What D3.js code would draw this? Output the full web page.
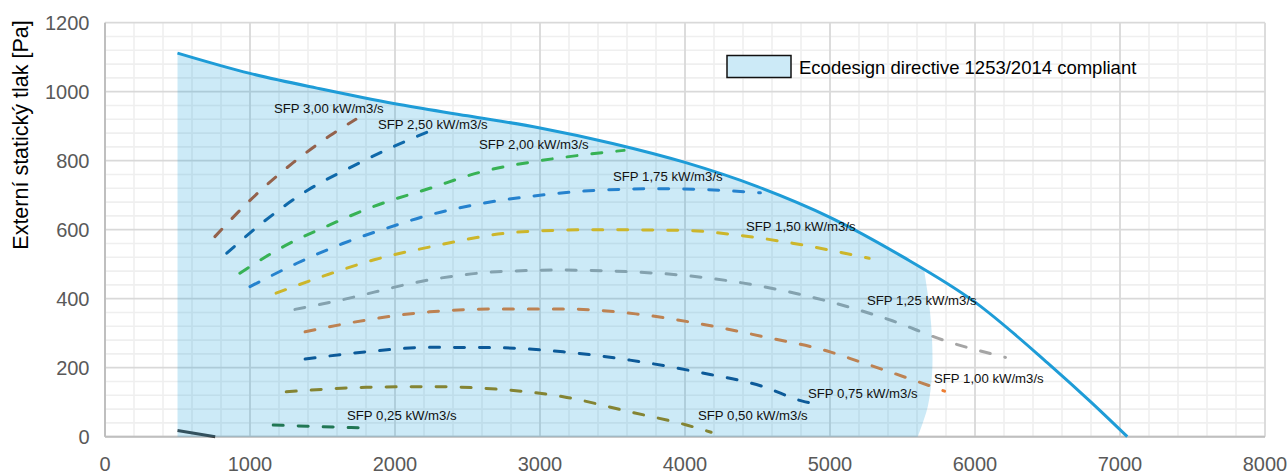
<!DOCTYPE html>
<html>
<head>
<meta charset="utf-8">
<script src="https://cdn.jsdelivr.net/npm/d3@7"></script>
<style>
  body { margin: 0; background: #fff; }
  svg { display: block; }
  text { font-family: "Liberation Sans", Arial, sans-serif; }
</style>
</head>
<body>
<svg id="chart" width="1287" height="474"></svg>
<script>
// Axis ticks
const xTicks = [0, 1000, 2000, 3000, 4000, 5000, 6000, 7000, 8000];
const yTicks = [0, 200, 400, 600, 800, 1000, 1200];

// Fan curve: airflow [m3/h] vs external static pressure [Pa]
const fanCurve = [[500, 1112], [1000, 1053], [1500, 1007], [2000, 965], [2500, 930], [3000, 895],
  [3500, 850], [4000, 795], [4500, 725], [5000, 636], [5500, 522], [6000, 390], [6500, 214],
  [6800, 100], [7050, 0]];

// Right-hand boundary of the Ecodesign compliant zone
const compliantEdge = [[5650, 482], [5686, 377], [5704, 280], [5704, 184], [5674, 87], [5605, 0]];

// Minimum operating line at low airflow
const minLine = [[500, 18], [760, 0]];

// SFP iso-lines
const sfp300 = [[758, 580], [1000, 685], [1300, 795], [1550, 872], [1730, 920]];
const sfp250 = [[840, 532], [1100, 625], [1400, 715], [1700, 782], [2000, 843], [2240, 886]];
const sfp200 = [[930, 474], [1230, 551], [1550, 614], [1850, 667], [2240, 720], [2600, 768],
  [3000, 800], [3280, 816], [3580, 830]];
const sfp175 = [[1000, 435], [1320, 502], [1640, 560], [1940, 604], [2240, 643], [2600, 676],
  [3000, 700], [3430, 715], [3850, 719], [4200, 715], [4520, 707]];
const sfp150 = [[1180, 416], [1530, 469], [1850, 512], [2240, 550], [2880, 594], [3400, 600],
  [3990, 598], [4350, 585], [4740, 561], [5270, 517]];
const sfp125 = [[1310, 369], [1570, 391], [2300, 459], [2700, 478], [3160, 483], [3620, 478],
  [4010, 467], [4540, 435], [5000, 391], [5430, 336], [5780, 280], [6210, 230]];
const sfp100 = [[1380, 304], [1800, 338], [2240, 362], [2700, 370], [3160, 370], [3660, 356],
  [4080, 329], [4540, 290], [5000, 246], [5200, 218], [5630, 156], [5790, 132]];
const sfp075 = [[1380, 225], [1800, 246], [2240, 259], [2700, 258], [3160, 246], [3620, 222],
  [4080, 188], [4540, 145], [4810, 103], [4900, 95]];
const sfp050 = [[1250, 130], [1800, 143], [2240, 145], [2700, 138], [3160, 116], [3620, 72],
  [4010, 34], [4180, 13]];
const sfp025 = [[1160, 34], [1500, 29], [1760, 26]];

const sfpLabels = ["SFP 3,00 kW/m3/s", "SFP 2,50 kW/m3/s", "SFP 2,00 kW/m3/s", "SFP 1,75 kW/m3/s",
  "SFP 1,50 kW/m3/s", "SFP 1,25 kW/m3/s", "SFP 1,00 kW/m3/s", "SFP 0,75 kW/m3/s",
  "SFP 0,50 kW/m3/s", "SFP 0,25 kW/m3/s"];
const sfpSeries = [sfp300, sfp250, sfp200, sfp175, sfp150, sfp125, sfp100, sfp075, sfp050, sfp025];

const legendLabel = "Ecodesign directive 1253/2014 compliant";
const yTitle = "Externí statický tlak [Pa]";

// ---- styling / layout ----
const sfpColors = ["#b9552a", "#135e9f", "#45b935", "#2f7dcc", "#ffbe00", "#a5a5a5",
  "#ed7d31", "#0f4c8a", "#a5800a", "#2a7034"];
// label anchor (left x, baseline y) in pixels
const labelPos = [[274, 113], [378, 129], [479, 149], [613, 181], [746, 231], [867, 305],
  [934, 383], [808, 398], [698, 420], [347, 420]];

const svg = d3.select("#chart");
const x = d3.scaleLinear().domain([0, 8000]).range([105, 1265]);
const y = d3.scaleLinear().domain([0, 1200]).range([436.7, 22.7]);

// grid: minor then major
const gGrid = svg.append("g");
const xMinor = d3.range(0, 8001, 200).filter(v => v % 1000 !== 0);
const yMinor = d3.range(0, 1201, 40).filter(v => v % 200 !== 0);
gGrid.selectAll(".xm").data(xMinor).join("line")
  .attr("x1", d => x(d)).attr("x2", d => x(d)).attr("y1", y(0)).attr("y2", y(1200))
  .attr("stroke", "#efefef").attr("stroke-width", 1.6);
gGrid.selectAll(".ym").data(yMinor).join("line")
  .attr("y1", d => y(d)).attr("y2", d => y(d)).attr("x1", x(0)).attr("x2", x(8000))
  .attr("stroke", "#efefef").attr("stroke-width", 1.6);
gGrid.selectAll(".xM").data(xTicks).join("line")
  .attr("x1", d => x(d)).attr("x2", d => x(d)).attr("y1", y(0)).attr("y2", y(1200))
  .attr("stroke", "#d9d9d9").attr("stroke-width", 1.8);
gGrid.selectAll(".yM").data(yTicks).join("line")
  .attr("y1", d => y(d)).attr("y2", d => y(d)).attr("x1", x(0)).attr("x2", x(8000))
  .attr("stroke", "#d9d9d9").attr("stroke-width", 1.8);

// axis lines
svg.append("line").attr("x1", x(0)).attr("x2", x(0)).attr("y1", y(0)).attr("y2", y(1200))
  .attr("stroke", "#bfbfbf").attr("stroke-width", 2);
svg.append("line").attr("x1", x(0)).attr("x2", x(8000)).attr("y1", y(0)).attr("y2", y(0))
  .attr("stroke", "#bfbfbf").attr("stroke-width", 2);

// tick labels
svg.append("g").selectAll("text").data(xTicks).join("text")
  .attr("x", d => x(d)).attr("y", 470.5).attr("text-anchor", "middle")
  .attr("font-size", 20).attr("fill", "#595959").text(d => d);
svg.append("g").selectAll("text").data(yTicks).join("text")
  .attr("x", 89.5).attr("y", d => y(d) + 7.2).attr("text-anchor", "end")
  .attr("font-size", 20).attr("fill", "#595959").text(d => d);

// axis title
svg.append("text").attr("transform", "translate(28,135) rotate(-90)")
  .attr("text-anchor", "middle").attr("font-size", 21.5).attr("fill", "#000").text(yTitle);

const line = d3.line().x(d => x(d[0])).y(d => y(d[1])).curve(d3.curveMonotoneX);

// SFP dashed lines
svg.append("g").selectAll("path").data(sfpSeries).join("path")
  .attr("d", d => line(d)).attr("fill", "none")
  .attr("stroke", (d, i) => sfpColors[i]).attr("stroke-width", 3)
  .attr("stroke-linecap", "round").attr("stroke-dasharray", "10,15");

svg.append("path").attr("d", d3.line().x(d => x(d[0])).y(d => y(d[1]))(minLine))
  .attr("fill", "none").attr("stroke", "#404040").attr("stroke-width", 3);

// compliant zone (translucent overlay)
const topPts = fanCurve.filter(p => p[0] <= 5500).concat([compliantEdge[0]]);
const topPath = line(topPts).replace(/^M/, "L");
const edgePath = d3.line().x(d => x(d[0])).y(d => y(d[1])).curve(d3.curveCatmullRom)(compliantEdge)
  .replace(/^M[^LC]*/, "");
svg.append("path")
  .attr("d", `M${x(500)},${y(0)}` + topPath + edgePath + "Z")
  .attr("fill", "rgb(0,150,215)").attr("fill-opacity", 0.2);

// fan curve
svg.append("path").attr("d", line(fanCurve)).attr("fill", "none")
  .attr("stroke", "#1e9cd7").attr("stroke-width", 3);

// SFP labels
svg.append("g").selectAll("text").data(sfpLabels).join("text")
  .attr("x", (d, i) => labelPos[i][0]).attr("y", (d, i) => labelPos[i][1])
  .attr("font-size", 13.2).attr("fill", "#111").text(d => d);

// legend
svg.append("rect").attr("x", 727).attr("y", 55.5).attr("width", 64).attr("height", 22)
  .attr("fill", "#cceaf7").attr("stroke", "#111").attr("stroke-width", 1.5);
svg.append("text").attr("x", 799).attr("y", 73.5).attr("font-size", 18.5).attr("fill", "#000")
  .text(legendLabel);
</script>
</body>
</html>
